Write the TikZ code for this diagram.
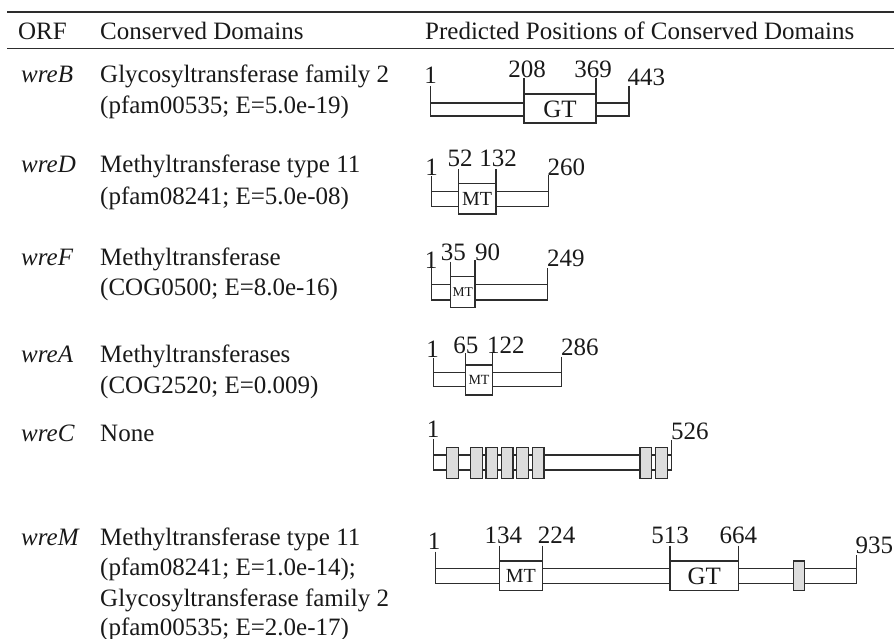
\documentclass[tikz,border=0pt]{standalone}
\usepackage{fontspec}
\setmainfont{Liberation Serif}
\definecolor{ln}{RGB}{45,45,45}
\definecolor{txtc}{RGB}{25,25,25}
\definecolor{boxgray}{RGB}{221,221,221}
\begin{document}
\begin{tikzpicture}[x=1pt,y=-1pt,
  txt/.style={inner sep=0pt, anchor=base west, text=txtc, font=\fontsize{25}{31}\selectfont},
  orf/.style={txt, font=\fontsize{25}{31}\selectfont\itshape},
  num/.style={inner sep=0pt, text=txtc, font=\fontsize{25}{30}\selectfont},
  endnum/.style={num, anchor=west},
  bar/.style={draw=ln, line width=1.1pt, fill=white},
  dom/.style={draw=ln, line width=1.1pt, fill=white},
  grey/.style={draw=ln, line width=1.1pt, fill=boxgray},
  tickl/.style={draw=ln, line width=1.1pt},
  rule/.style={draw=ln, line width=1.6pt}]
\useasboundingbox (0,0) rectangle (894,639);
% rules
\coordinate (r1a) at (7,12); \coordinate (r1b) at (894,12);
\coordinate (r2a) at (7,48.5); \coordinate (r2b) at (894,48.5);
\draw[rule] (r1a) -- (r1b);
\draw[rule] (r2a) -- (r2b);
% header
\node[txt] (hORF) at (18,40) {ORF};
\node[txt] (hCD) at (100,40) {Conserved Domains};
\node[txt] (hPP) at (425,40) {Predicted Positions of Conserved Domains};
% left column
\node[orf] (oB) at (21,83) {wreB};
\node[txt] (tB1) at (100,83) {Glycosyltransferase family 2};
\node[txt] (tB2) at (100,114) {(pfam00535; E=5.0e-19)};
\node[orf] (oD) at (21,173) {wreD};
\node[txt] (tD1) at (100,173) {Methyltransferase type 11};
\node[txt] (tD2) at (100,204.5) {(pfam08241; E=5.0e-08)};
\node[orf] (oF) at (21,265) {wreF};
\node[txt] (tF1) at (100,265) {Methyltransferase};
\node[txt] (tF2) at (100,295.5) {(COG0500; E=8.0e-16)};
\node[orf] (oA) at (21,362) {wreA};
\node[txt] (tA1) at (100,362) {Methyltransferases};
\node[txt] (tA2) at (100,393) {(COG2520; E=0.009)};
\node[orf] (oC) at (21,441) {wreC};
\node[txt] (tC1) at (100,441) {None};
\node[orf] (oM) at (21,545) {wreM};
\node[txt] (tM1) at (100,545) {Methyltransferase type 11};
\node[txt] (tM2) at (100,575.5) {(pfam08241; E=1.0e-14);};
\node[txt] (tM3) at (100,606) {Glycosyltransferase family 2};
\node[txt] (tM4) at (100,635) {(pfam00535; E=2.0e-17)};
% ---- wreB
\draw[bar] (430.7,103) rectangle (629,116);
\draw[tickl] (430.7,86) -- (430.7,103);
\draw[tickl] (629,86) -- (629,103);
\draw[dom] (524,94) rectangle (596,123);
\draw[tickl] (524,78) -- (524,94);
\draw[tickl] (596,78) -- (596,94);
\node[num] (gtB) at (560,109) {GT};
\node[num] (nB1) at (430.5,75) {1};
\node[num] (nB2) at (527,69.5) {208};
\node[num] (nB3) at (593,69.5) {369};
\node[endnum] (nB4) at (627.5,77) {443};
% ---- wreD
\draw[bar] (431.7,191.7) rectangle (548.3,206.7);
\draw[tickl] (431.7,176.5) -- (431.7,191.7);
\draw[tickl] (548.3,175) -- (548.3,191.7);
\draw[dom] (458.3,183.3) rectangle (496,214);
\draw[tickl] (458.3,169.3) -- (458.3,183.3);
\draw[tickl] (496,169.3) -- (496,183.3);
\node[num, font=\fontsize{20}{24}\selectfont] (mtD) at (477.2,199) {MT};
\node[num] (nD1) at (431.5,167.5) {1};
\node[num] (nD2) at (460,158.3) {52};
\node[num] (nD3) at (498,158.3) {132};
\node[endnum] (nD4) at (547.5,167.3) {260};
% ---- wreF
\draw[bar] (431.7,284.3) rectangle (547.3,300);
\draw[tickl] (431.7,268) -- (431.7,284.3);
\draw[tickl] (547.3,268.3) -- (547.3,284.3);
\draw[dom] (450.7,276.7) rectangle (475,307.3);
\draw[tickl] (450.7,261.7) -- (450.7,276.7);
\draw[tickl] (475,260) -- (475,276.7);
\node[num, font=\fontsize{13.5}{16}\selectfont] (mtF) at (462.8,292) {MT};
\node[num] (nF1) at (431,260) {1};
\node[num] (nF2) at (453.3,252.5) {35};
\node[num] (nF3) at (487.5,252.5) {90};
\node[endnum] (nF4) at (547,258) {249};
% ---- wreA
\draw[bar] (433.3,372.7) rectangle (561.7,386.7);
\draw[tickl] (433.3,358.3) -- (433.3,372.7);
\draw[tickl] (561.7,356.7) -- (561.7,372.7);
\draw[dom] (465.7,365) rectangle (492.3,395);
\draw[tickl] (465.7,353.3) -- (465.7,365);
\draw[tickl] (492.3,353.3) -- (492.3,365);
\node[num, font=\fontsize{14}{17}\selectfont] (mtA) at (479,380) {MT};
\node[num] (nA1) at (432.5,349) {1};
\node[num] (nA2) at (465.8,345) {65};
\node[num] (nA3) at (505.8,345) {122};
\node[endnum] (nA4) at (561,347.3) {286};
% ---- wreC
\draw[bar] (433.3,455) rectangle (671.7,470);
\draw[tickl] (433.3,438.5) -- (433.3,455);
\draw[tickl] (671.7,440) -- (671.7,455);
\foreach \a/\b [count=\i] in {446.7/458.3, 470.7/482.3, 486/497.7, 501.3/513, 516.7/528.3, 532.3/544, 640/651.7, 655.7/667.3}
  \draw[grey] (\a,447.7) rectangle (\b,478.3);
\node[num] (nC1) at (433,429) {1};
\node[endnum] (nC2) at (671,431.7) {526};
% ---- wreM
\draw[bar] (435.7,568.3) rectangle (856.7,583.3);
\draw[tickl] (435.7,551.7) -- (435.7,568.3);
\draw[tickl] (856.7,555) -- (856.7,568.3);
\draw[dom] (499.3,561) rectangle (542.3,590.7);
\draw[dom] (670,561) rectangle (738.3,590.7);
\draw[grey] (793.3,561) rectangle (804.3,590.7);
\draw[tickl] (499.3,545.7) -- (499.3,561);
\draw[tickl] (542.3,545.7) -- (542.3,561);
\draw[tickl] (670,545.7) -- (670,561);
\draw[tickl] (738.3,545.7) -- (738.3,561);
\node[num, font=\fontsize{20}{24}\selectfont] (mtM) at (520.8,576) {MT};
\node[num] (gtM) at (704.2,576) {GT};
\node[num] (nM1) at (434,541.7) {1};
\node[num] (nM2) at (503.3,535) {134};
\node[num] (nM3) at (556.7,535) {224};
\node[num] (nM4) at (670,535) {513};
\node[num] (nM5) at (738.3,535) {664};
\node[endnum] (nM6) at (855.5,545) {935};
\end{tikzpicture}
\end{document}
